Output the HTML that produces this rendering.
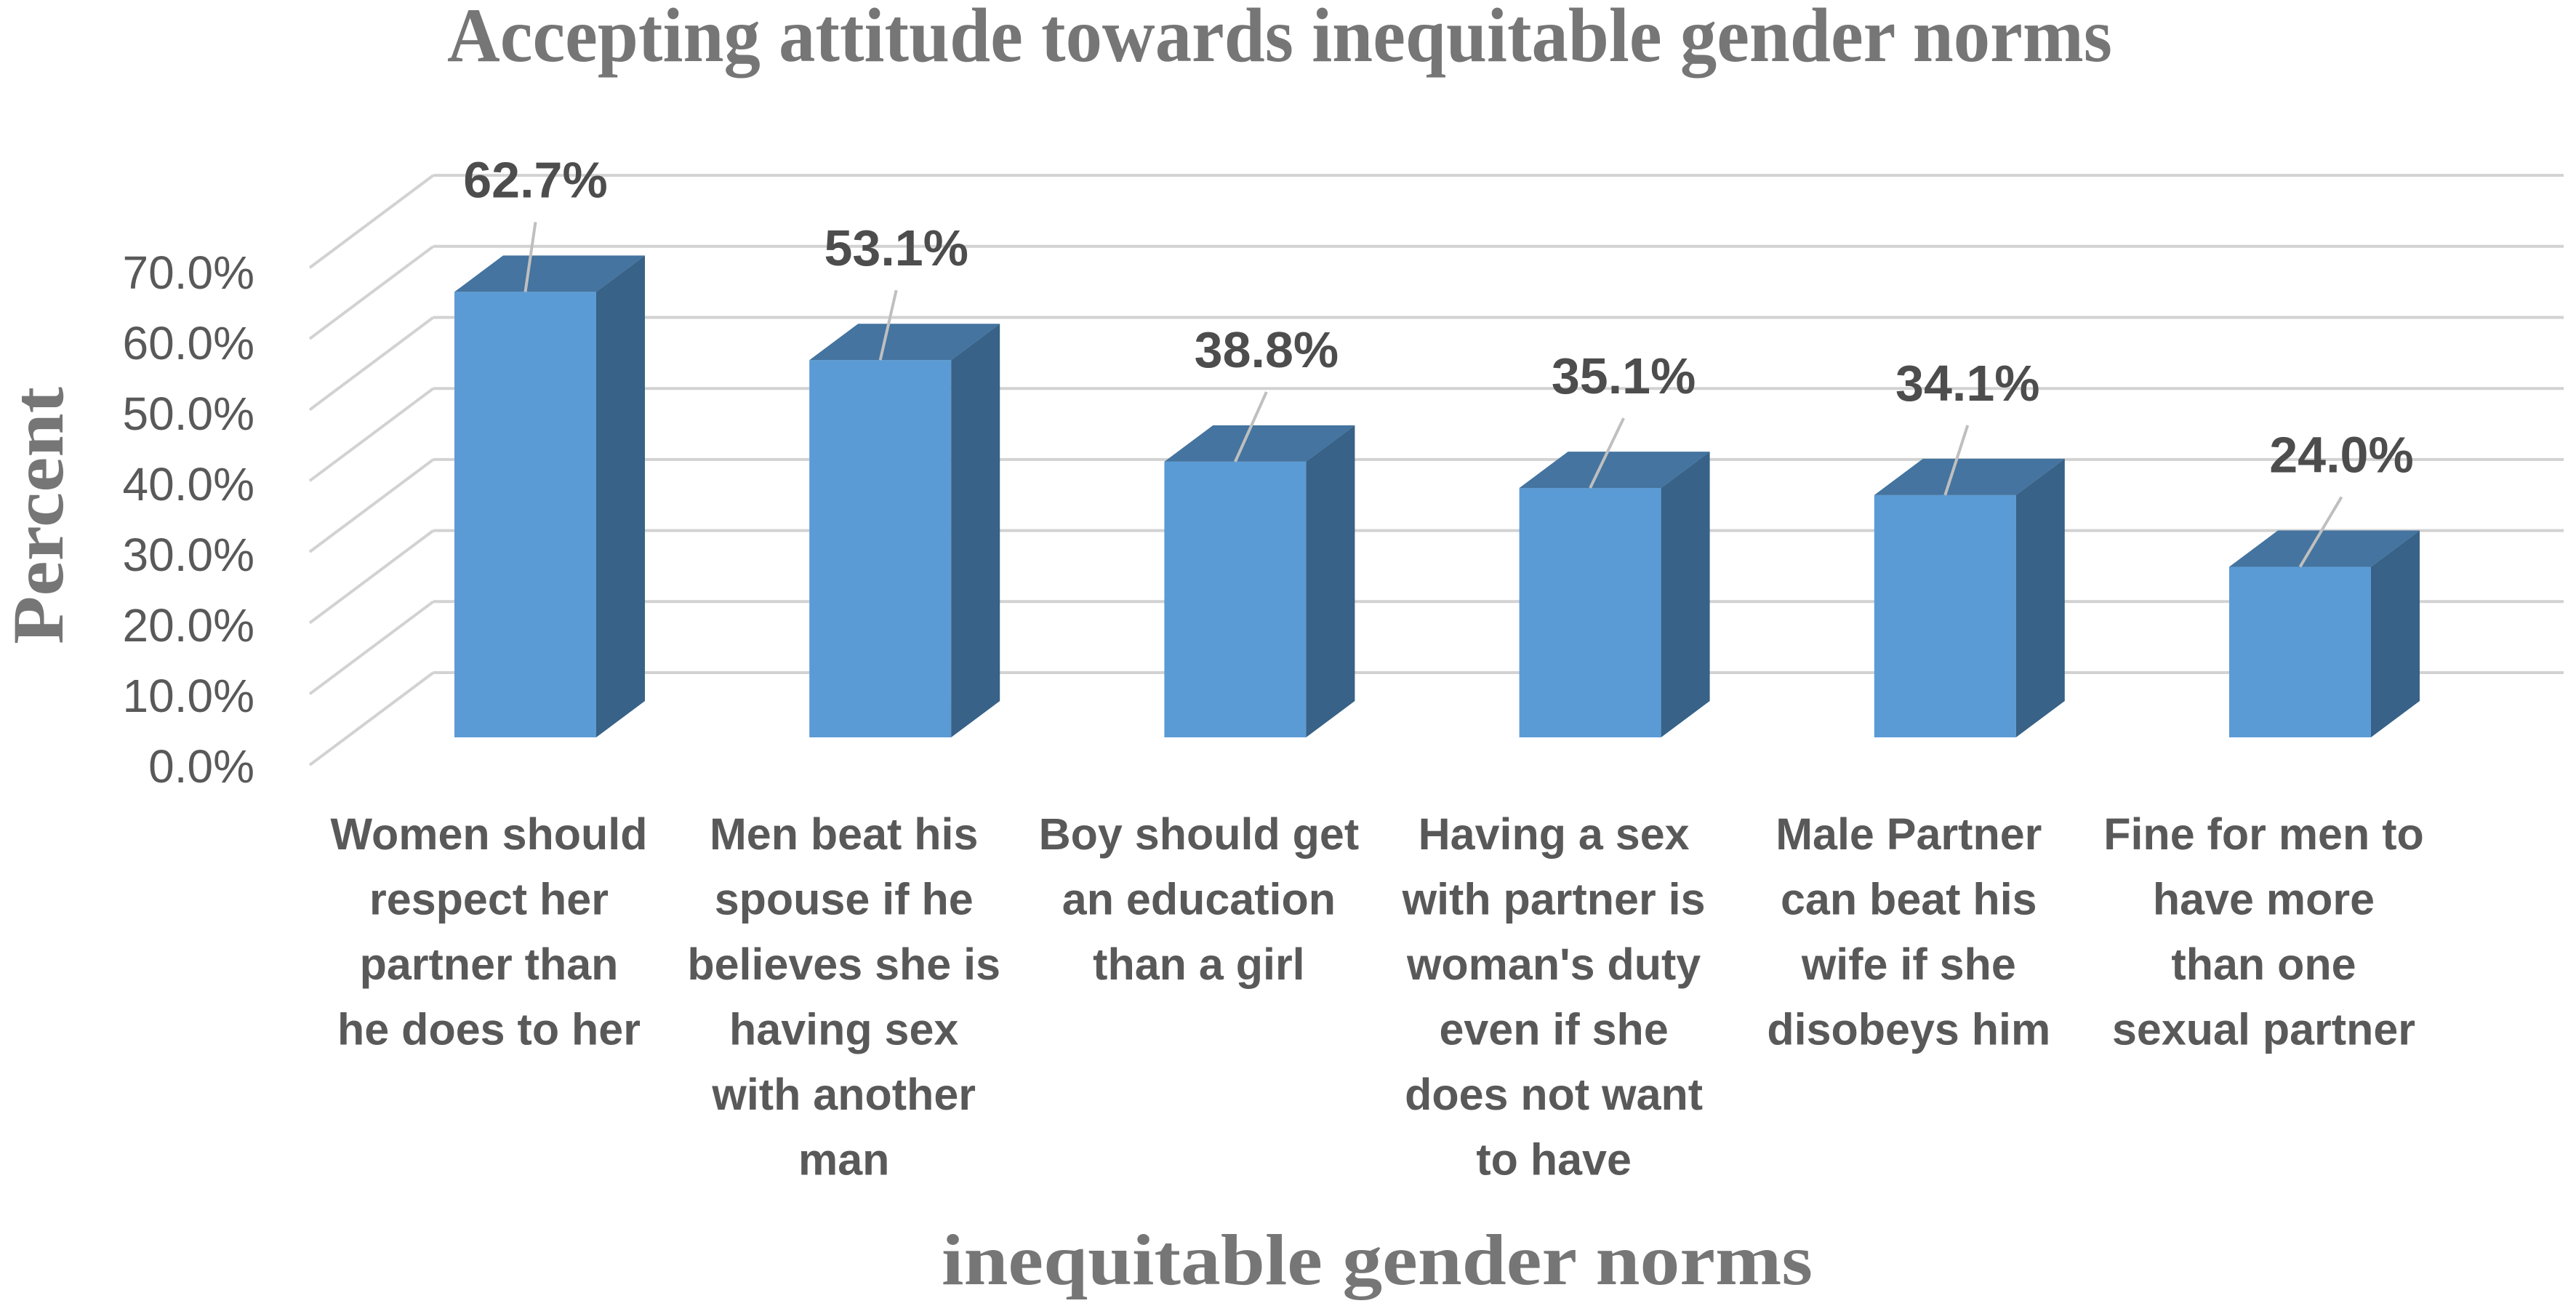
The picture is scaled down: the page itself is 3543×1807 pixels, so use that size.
<!DOCTYPE html>
<html><head><meta charset="utf-8"><style>html,body{margin:0;padding:0;background:#fff}svg{display:block}</style></head>
<body>
<svg id="chart" width="3543" height="1807" viewBox="0 0 3543 1807" xmlns="http://www.w3.org/2000/svg">
<rect width="3543" height="1807" fill="#ffffff"/>
<text x="615" y="84" font-family="Liberation Serif, serif" font-weight="bold" font-size="106" fill="#767676" textLength="2290" lengthAdjust="spacingAndGlyphs">Accepting attitude towards inequitable gender norms</text>
<text transform="translate(86,709) rotate(-90)" text-anchor="middle" font-family="Liberation Serif, serif" font-weight="bold" font-size="100" fill="#767676" textLength="354" lengthAdjust="spacingAndGlyphs">Percent</text>
<text x="1295" y="1766" font-family="Liberation Serif, serif" font-weight="bold" font-size="100" fill="#767676" textLength="1198" lengthAdjust="spacingAndGlyphs">inequitable gender norms</text>
<g id="grid"></g><g id="ticks"></g><g id="bars"></g><g id="cats"></g>
</svg>
<script>
const categories = [
  ["Women should","respect her","partner  than","he does to her"],
  ["Men beat his","spouse if he","believes she is","having sex","with another","man"],
  ["Boy should get","an education","than a girl"],
  ["Having a sex","with partner is","woman's duty","even if she","does not want","to have"],
  ["Male Partner","can beat his","wife if she","disobeys him"],
  ["Fine for men to","have more","than one","sexual partner"]
];
const values = [62.7, 53.1, 38.8, 35.1, 34.1, 24.0];
const valueLabels = ["62.7%","53.1%","38.8%","35.1%","34.1%","24.0%"];
const tickValues = [0,10,20,30,40,50,60,70];
const tickLabels = ["0.0%","10.0%","20.0%","30.0%","40.0%","50.0%","60.0%","70.0%"];

const NS = "http://www.w3.org/2000/svg";
function mk(tag, attrs, parent){const e=document.createElementNS(NS,tag);for(const k in attrs)e.setAttribute(k,attrs[k]);parent.appendChild(e);return e;}
const frontBase = 1014, pxPerUnit = 9.77;
const yFront = v => frontBase - v*pxPerUnit;
const backBase = 925;
const yBack = v => backBase - v*pxPerUnit;
const yTick = v => 1053 - v*9.7;
const xBar = i => 625 + i*488.2;
const barW = 195, dX = 67, dY = 50;
const labelDx = [14,22,43,46,31,57];

const grid = document.getElementById('grid');
tickValues.forEach((t,i)=>{
  const yb = yBack(t);
  const l1 = mk('line',{x1:596,y1:yb,x2:3526,y2:yb,stroke:'#d2d2d2','stroke-width':4},grid);
  
  
  const l2 = mk('line',{x1:426,y1:yb+127,x2:596,y2:yb,stroke:'#d2d2d2','stroke-width':4},grid);
  
  
});
const ticks = document.getElementById('ticks');
tickValues.forEach((t,i)=>{
  const tx = mk('text',{x:350,y:yTick(t)+23,'text-anchor':'end','font-family':'Liberation Sans, sans-serif','font-size':64,fill:'#595959'},ticks);
  tx.textContent = tickLabels[i];
  
  
});
const bars = document.getElementById('bars');
values.forEach((v,i)=>{
  const x = xBar(i), top = yFront(v);
  const g = mk('g',{},bars);
  
  
  mk('rect',{x:x,y:top,width:barW,height:frontBase-top,fill:'#5b9bd5'},g);
  mk('polygon',{points:`${x},${top} ${x+dX},${top-dY} ${x+barW+dX},${top-dY} ${x+barW},${top}`,fill:'#44749f'},g);
  mk('polygon',{points:`${x+barW},${top} ${x+barW+dX},${top-dY} ${x+barW+dX},${frontBase-dY} ${x+barW},${frontBase}`,fill:'#386287'},g);
  const cx = x + barW/2, lx = cx + labelDx[i];
  const ld = mk('line',{x1:cx,y1:top,x2:lx,y2:top-96,stroke:'#bfbfbf','stroke-width':4},bars);
  
  
  const lt = mk('text',{x:lx,y:top-130,'text-anchor':'middle','font-family':'Liberation Sans, sans-serif','font-weight':'bold','font-size':70,fill:'#4d4d4d'},bars);
  lt.textContent = valueLabels[i];
  
  
});
const cats = document.getElementById('cats');
categories.forEach((lines,i)=>{
  const cx = xBar(i) + barW/2 - 50;
  const t = mk('text',{'text-anchor':'middle','font-family':'Liberation Sans, sans-serif','font-weight':'bold','font-size':61,fill:'#595959'},cats);
  
  
  lines.forEach((ln,j)=>{
    const ts = mk('tspan',{x:cx,y:1168+j*89.5},t);
    ts.textContent = ln;
  });
});
</script>
</body></html>
